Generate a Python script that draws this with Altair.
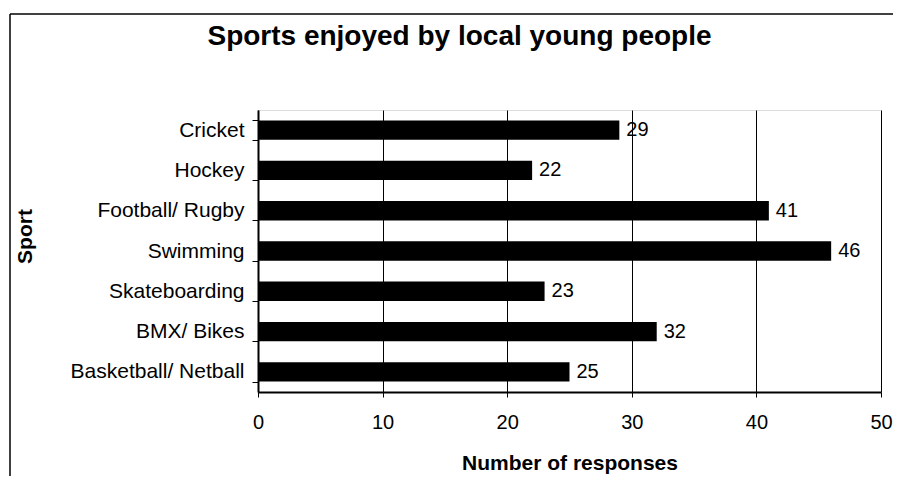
import altair as alt
import pandas as pd

sports = ["Cricket", "Hockey", "Football/ Rugby", "Swimming", "Skateboarding", "BMX/ Bikes", "Basketball/ Netball"]
responses = [29, 22, 41, 46, 23, 32, 25]
x_ticks = [0, 10, 20, 30, 40, 50]

df = pd.DataFrame({"Sport": sports, "Responses": responses})
FONT = "Liberation Sans"

x_enc = alt.X(
    "Responses:Q",
    scale=alt.Scale(domain=[0, 50], nice=False),
    axis=alt.Axis(
        values=x_ticks, grid=True, gridColor="black", gridOpacity=1, gridWidth=1,
        tickSize=5, tickColor="black", domainColor="black", domainWidth=2,
        labelFontSize=20, labelFont=FONT, labelColor="black", labelPadding=15,
        labelFlush=False,
        title="Number of responses", titleFont=FONT, titleFontSize=21,
        titleFontWeight="bold", titleColor="black", titleY=77,
        titleBaseline="alphabetic",
    ),
)
y_enc = alt.Y(
    "Sport:N",
    sort=sports,
    scale=alt.Scale(paddingInner=0.52, paddingOuter=0.26),
    axis=alt.Axis(
        tickBand="extent", tickSize=6, tickColor="black", domainColor="black",
        domainWidth=2, labelFontSize=21, labelFont=FONT, labelColor="black",
        labelPadding=8, grid=False, labelLimit=300,
        title="Sport", titleFont=FONT, titleFontSize=21, titleFontWeight="bold",
        titleColor="black", titleAngle=270, titleX=-233, titleY=126,
        titleAlign="center", titleBaseline="middle",
    ),
)

base = alt.Chart(df)
bars = base.mark_bar(color="black").encode(x=x_enc, y=y_enc)
labels = base.mark_text(align="left", baseline="middle", dx=7, fontSize=20,
                        font=FONT, color="black").encode(
    x="Responses:Q", y=alt.Y("Sport:N", sort=sports), text="Responses:Q")

frame_df = pd.DataFrame({"k": [0]})
frame_left = alt.Chart(frame_df).mark_rule(color="black", strokeWidth=1.5).encode(
    x=alt.value(-248), y=alt.value(-96), y2=alt.value(400))
frame_top = alt.Chart(frame_df).mark_rule(color="black", strokeWidth=1.5).encode(
    x=alt.value(-248), x2=alt.value(640), y=alt.value(-96))

chart = alt.layer(bars, labels, frame_left, frame_top).properties(
    width=623, height=282,
    title=alt.Title("Sports enjoyed by local young people", fontSize=28,
                    fontWeight="bold", font=FONT, color="black",
                    anchor="middle", frame="group", dx=-110, offset=-60,
                    baseline="alphabetic"),
    autosize=alt.AutoSizeParams(type="none"),
    padding={"left": 250, "top": 102, "right": 12, "bottom": 84},
).configure_view(stroke="black", strokeWidth=2).configure(background="white")

chart.save("out.html", embed_options={"renderer": "svg", "actions": False})
